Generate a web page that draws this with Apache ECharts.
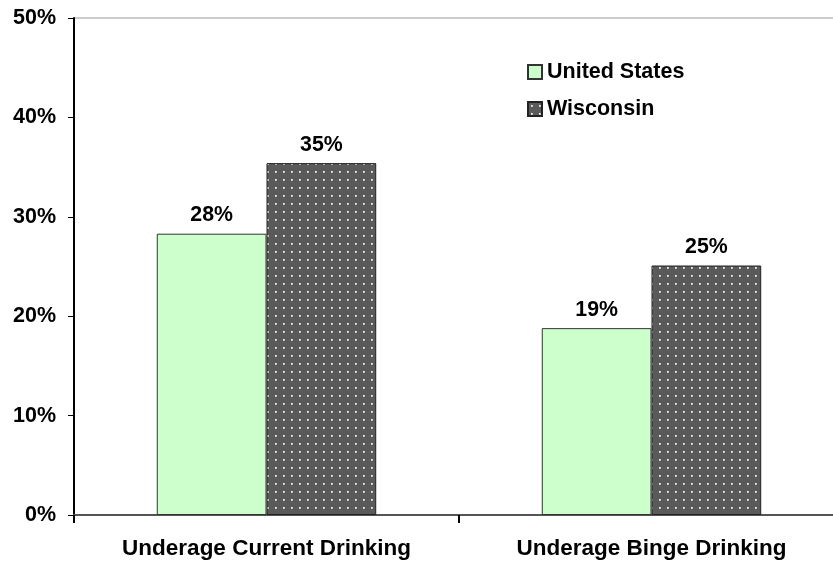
<!DOCTYPE html>
<html>
<head>
<meta charset="utf-8">
<script src="https://cdn.jsdelivr.net/npm/echarts@6/dist/echarts.min.js"></script>
<style>
  html, body { margin: 0; padding: 0; background: #fff; }
  #chart { width: 833px; height: 563px; }
</style>
</head>
<body>
<div id="chart"></div>
<script>
// Underage drinking rates, percent of population
const categories = ['Underage Current Drinking', 'Underage Binge Drinking'];
const unitedStates = [28.3, 18.8];
const wisconsin = [35.4, 25.1];
const yTicks = [0, 10, 20, 30, 40, 50];

// Dotted fill: dark grey with a regular grid of light dots
function dotPattern() {
  const c = document.createElement('canvas');
  c.width = 8; c.height = 8;
  const g = c.getContext('2d');
  g.fillStyle = '#5a5a5a';
  g.fillRect(0, 0, 8, 8);
  g.fillStyle = '#c4c4c4';
  g.fillRect(3, 3, 2, 2);
  g.fillStyle = '#ffffff';
  g.fillRect(3, 3, 1, 1);
  return c;
}

const font = '"Liberation Sans", Arial, sans-serif';
const chart = echarts.init(document.getElementById('chart'), null, { renderer: 'canvas' });

const labelStyle = {
  show: true,
  position: 'top',
  distance: 8,
  color: '#000',
  fontFamily: font,
  fontWeight: 'bold',
  fontSize: 21.3,
  formatter: p => Math.round(p.value) + '%'
};

chart.setOption({
  animation: false,
  backgroundColor: '#fff',
  grid: {
    left: 74, width: 770, top: 18, bottom: 48,
    outerBoundsMode: 'none',
    show: true, borderColor: '#9a9a9a', borderWidth: 1
  },
  legend: {
    orient: 'vertical',
    left: 527, top: 61,
    padding: 0,
    itemWidth: 14, itemHeight: 14,
    itemGap: 15,
    icon: 'rect',
    textStyle: { fontFamily: font, fontWeight: 'bold', fontSize: 21.5, color: '#000' },
    data: ['United States', 'Wisconsin']
  },
  xAxis: {
    type: 'category',
    data: categories,
    axisLine: { lineStyle: { color: '#555', width: 2 } },
    axisTick: { show: true, length: 8, lineStyle: { color: '#000', width: 2 } },
    axisLabel: {
      margin: 22, color: '#000',
      fontFamily: font, fontWeight: 'bold', fontSize: 22.5
    }
  },
  yAxis: {
    type: 'value',
    min: yTicks[0], max: yTicks[yTicks.length - 1], interval: 10,
    axisLine: { show: true, lineStyle: { color: '#000', width: 2 } },
    axisTick: { show: true, length: 6, lineStyle: { color: '#000', width: 1 } },
    splitLine: { show: false },
    axisLabel: {
      margin: 18, color: '#000',
      fontFamily: font, fontWeight: 'bold', fontSize: 21.5,
      formatter: v => v + '%'
    }
  },
  series: [
    {
      name: 'United States',
      type: 'bar',
      data: unitedStates,
      barGap: '0%',
      barCategoryGap: '43%',
      itemStyle: { color: '#ccffcc', borderColor: '#333', borderWidth: 1 },
      label: labelStyle
    },
    {
      name: 'Wisconsin',
      type: 'bar',
      data: wisconsin,
      itemStyle: {
        color: { image: dotPattern(), repeat: 'repeat' },
        borderColor: '#222', borderWidth: 1
      },
      label: labelStyle
    }
  ]
});
</script>
</body>
</html>
